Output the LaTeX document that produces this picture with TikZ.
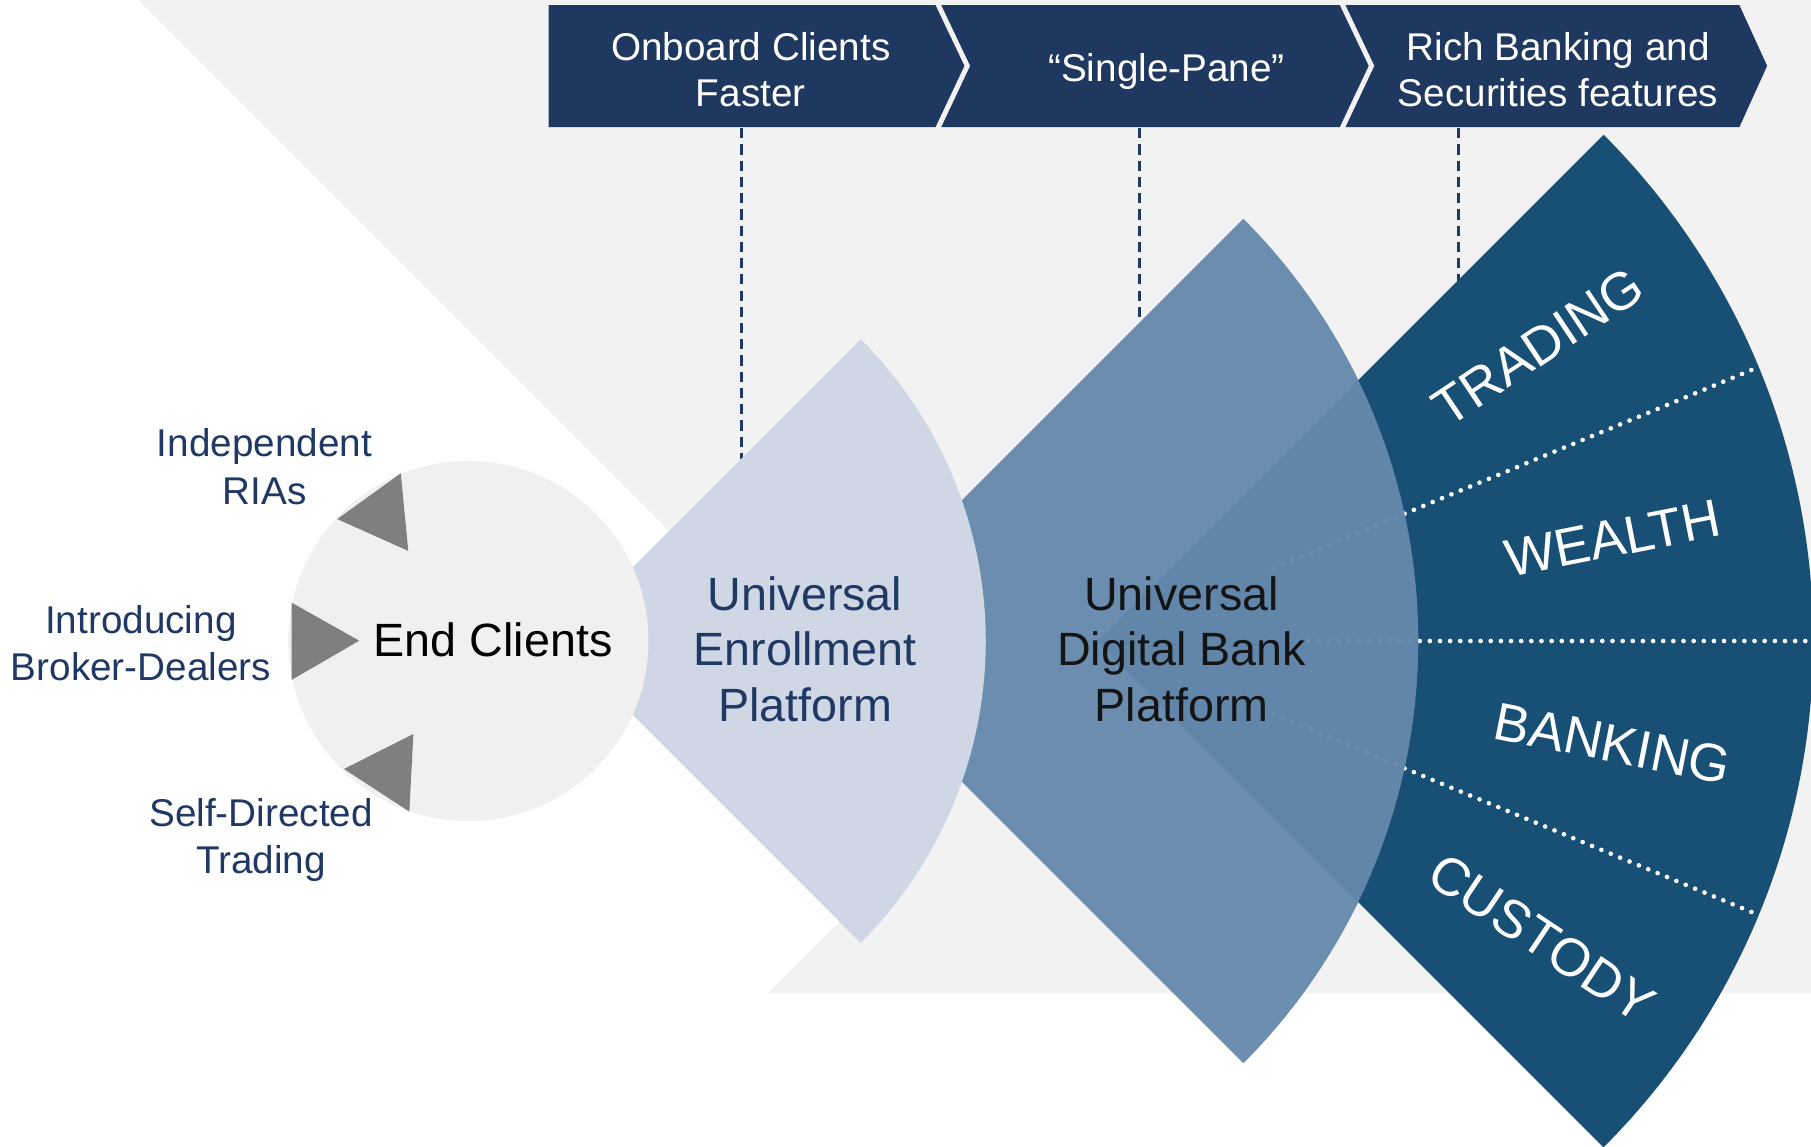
\documentclass[tikz,border=0pt]{standalone}
\usepackage{fontspec}
\setmainfont{Liberation Sans}
\usetikzlibrary{calc}
\definecolor{bggray}{RGB}{242,242,242}
\definecolor{circgray}{RGB}{240,240,240}
\definecolor{trigray}{RGB}{127,127,127}
\definecolor{navy}{RGB}{32,56,100}
\definecolor{headnavy}{RGB}{31,56,96}
\definecolor{lightblue}{RGB}{206,215,227}
\definecolor{midblue}{RGB}{102,137,173}
\definecolor{darkblue}{RGB}{24,79,116}
\begin{document}
\begin{tikzpicture}[x=0.02cm,y=-0.02cm,
  lbl/.style={inner sep=0pt, align=center, text=navy, font=\fontsize{19.06}{23.3}\selectfont},
  big/.style={inner sep=0pt, align=center, font=\fontsize{23}{27.3}\selectfont},
  hdr/.style={inner sep=0pt, align=center, text=white, font=\fontsize{19.06}{22.8}\selectfont},
  seg/.style={inner sep=0pt, text=white, font=\fontsize{26.2}{30}\selectfont},
  dashln/.style={draw=navy, line width=1.5pt, dash pattern=on 5pt off 3pt},
  dotln/.style={draw=white, line width=2.3pt, line cap=round, dash pattern=on 0pt off 5pt},
  tri/.style={fill=trigray},
  chev/.style={fill=headnavy}
]
\useasboundingbox (0,0) rectangle (1568,993);
\clip (0,0) rectangle (1568,993);
% background
\fill[bggray] (120,0) -- (1568,0) -- (1568,860) -- (665,860) -- (822.5,702.5) -- cycle;

% dashed connectors
\coordinate (d1a) at (642,111); \coordinate (d1b) at (642,397);
\coordinate (d2a) at (987,111); \coordinate (d2b) at (987,279);
\coordinate (d3a) at (1263,111); \coordinate (d3b) at (1263,243);
\draw[dashln] (d1a) -- (d1b);
\draw[dashln] (d2a) -- (d2b);
\draw[dashln] (d3a) -- (d3b);

% dark sector
\coordinate (dc) at (950,555);
\fill[darkblue] (dc) -- plot[domain=-45:45, samples=120] ({950+620*cos(\x)},{555+620*sin(\x)}) -- cycle;
\draw[dotln] ($(dc)+(-22.5:165)$) -- ($(dc)+(-22.5:616)$);
\draw[dotln] ($(dc)+(0:165)$) -- ($(dc)+(0:620)$);
\draw[dotln] ($(dc)+(22.5:165)$) -- ($(dc)+(22.5:616)$);
\node[seg, rotate=33.75] (trading) at ($(dc)+(-33.75:459)$) {TRADING};
\node[seg, rotate=11.25] (wealth) at ($(dc)+(-11.25:455)$) {WEALTH};
\node[seg, rotate=-11.25] (banking) at ($(dc)+(11.25:455)$) {BANKING};
\node[seg, rotate=-33.75] (custody) at ($(dc)+(33.75:463)$) {CUSTODY};

% medium sector
\fill[midblue, opacity=0.96] (711,555) -- plot[domain=-45:45, samples=120] ({711+517*cos(\x)},{555+517*sin(\x)}) -- cycle;
\node[big, text=black!92] (udbp) at (1023,562) {Universal\\Digital Bank\\Platform};

% light sector
\fill[lightblue] (484,555) -- plot[domain=-45:45, samples=120] ({484+369.5*cos(\x)},{555+369.5*sin(\x)}) -- cycle;
\node[big, text=navy] (uep) at (697,562) {Universal\\Enrollment\\Platform};

% end clients circle
\node[circle, fill=circgray, inner sep=0pt, minimum size=6.24cm] (ec) at (405.5,555) {};
\node[big, text=black] (ectext) at (427,554) {End Clients};

% triangles
\fill[tri] (292,449.4) -- (347,409.8) -- (353.5,477) -- cycle;
\fill[tri] (252.5,521.8) -- (311,554.7) -- (252.5,588.7) -- cycle;
\fill[tri] (297.8,665.8) -- (357.9,635.5) -- (354.4,702.7) -- cycle;

% side labels
\node[lbl] (ria) at (229,404) {Independent\\RIAs};
\node[lbl] (ibd) at (122,557) {Introducing\\Broker-Dealers};
\node[lbl] (sdt) at (226,727) {Self-Directed\\Trading};

% header chevrons
\fill[chev] (475,4.5) -- (810,4.5) -- (835,57) -- (810,110) -- (475,110) -- cycle;
\fill[chev] (815,4.5) -- (1160,4.5) -- (1185,57) -- (1160,110) -- (815,110) -- (840,57) -- cycle;
\fill[chev] (1165,4.5) -- (1506,4.5) -- (1530,57) -- (1506,110) -- (1165,110) -- (1190,57) -- cycle;
\node[hdr] (h1) at (650,60.5) {Onboard Clients\\Faster};
\node[hdr] (h2) at (1010,62) {“Single-Pane”};
\node[hdr] (h3) at (1349,60.5) {Rich Banking and\\Securities features};
\end{tikzpicture}
\end{document}
